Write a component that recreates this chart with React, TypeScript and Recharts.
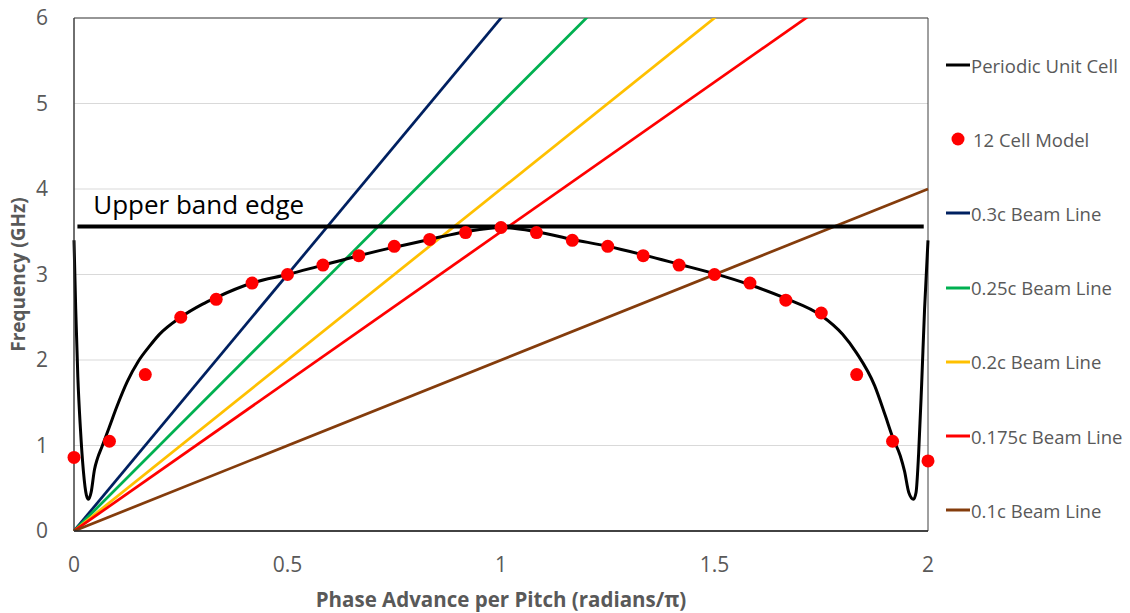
import React from 'react';
import { ComposedChart, Line, Scatter, XAxis, YAxis, CartesianGrid, ReferenceArea, ReferenceDot } from 'recharts';

const FONT = '"Open Sans", "Noto Sans", sans-serif';
const GREY = '#595959';

// Periodic unit cell dispersion curve (phase / pi, GHz)
const curvePhase = [
  0, 0.004, 0.009, 0.015, 0.022, 0.029, 0.034, 0.04, 0.048, 0.055, 0.065, 0.083, 0.1, 0.125, 0.15, 0.175, 0.2,
  0.25, 0.3, 0.333, 0.417, 0.5, 0.583, 0.667, 0.75, 0.833, 0.917, 1.0, 1.083, 1.167, 1.25, 1.333, 1.417, 1.5,
  1.583, 1.667, 1.75, 1.8, 1.833, 1.875, 1.9, 1.917, 1.935, 1.945, 1.955, 1.966, 1.972, 1.978, 1.985, 1.992, 2.0,
];
const curveFreq = [
  3.4, 2.6, 1.8, 1.2, 0.7, 0.42, 0.37, 0.45, 0.72, 0.85, 0.98, 1.22, 1.45, 1.75, 1.98, 2.15, 2.3,
  2.5, 2.65, 2.73, 2.9, 3.0, 3.11, 3.22, 3.32, 3.41, 3.5, 3.55, 3.5, 3.41, 3.33, 3.23, 3.12, 3.01,
  2.88, 2.72, 2.52, 2.3, 2.08, 1.7, 1.35, 1.1, 0.88, 0.7, 0.45, 0.37, 0.45, 0.9, 1.7, 2.6, 3.4,
];

// 12 cell model points
const cellPhase = [
  0, 0.083, 0.167, 0.25, 0.333, 0.417, 0.5, 0.583, 0.667, 0.75, 0.833, 0.917, 1.0,
  1.083, 1.167, 1.25, 1.333, 1.417, 1.5, 1.583, 1.667, 1.75, 1.833, 1.917, 2.0,
];
const cellFreq = [
  0.86, 1.05, 1.83, 2.5, 2.71, 2.9, 3.0, 3.11, 3.22, 3.33, 3.41, 3.49, 3.55,
  3.49, 3.4, 3.33, 3.22, 3.11, 3.0, 2.9, 2.7, 2.55, 1.83, 1.05, 0.82,
];

// Beam lines: from origin to frequency reached at phase 2
const beamNames = ['0.3c Beam Line', '0.25c Beam Line', '0.2c Beam Line', '0.175c Beam Line', '0.1c Beam Line'];
const beamColors = ['#002060', '#00B050', '#FFC000', '#FF0000', '#843C0C'];
const beamPhase = [0, 2];
const beamFreqEnd = [12, 10, 8, 7, 4];

const bandEdgeFreq = 3.56;
const bandEdgePhase = [0.008, 1.99];

const xTicks = [0, 0.5, 1, 1.5, 2];
const yTicks = [0, 1, 2, 3, 4, 5, 6];

const curveData = curvePhase.map((x, i) => ({ x, y: curveFreq[i] }));
const cellData = cellPhase.map((x, i) => ({ x, y: cellFreq[i] }));
const beamData = beamFreqEnd.map((f) => beamPhase.map((x, i) => ({ x, y: i === 0 ? 0 : f })));
const bandData = bandEdgePhase.map((x) => ({ x, y: bandEdgeFreq }));

const legendItems = [
  { name: 'Periodic Unit Cell', color: '#000000', dot: false },
  { name: '12 Cell Model', color: '#FF0000', dot: true },
  ...beamNames.map((name, i) => ({ name, color: beamColors[i], dot: false })),
];

const fmtX = (v: number) => String(v);

export default function App() {
  return (
    <div style={{ position: 'absolute', left: 0, top: 0, width: 1130, height: 613, background: '#fff', fontFamily: FONT }}>
      <ComposedChart width={1130} height={613} margin={{ top: 18, right: 202, bottom: 0, left: 0 }}>
        <CartesianGrid horizontal vertical={false} stroke="#D9D9D9" strokeWidth={1} />
        <XAxis
          dataKey="x"
          type="number"
          domain={[0, 2]}
          ticks={xTicks}
          tickFormatter={fmtX}
          height={82}
          tickLine={false}
          tickMargin={20}
          axisLine={{ stroke: '#262626', strokeWidth: 1.5 }}
          tick={{ fill: GREY, fontSize: 21, fontFamily: FONT }}
          label={{
            value: 'Phase Advance per Pitch (radians/π)',
            position: 'insideBottom',
            offset: 6,
            fill: GREY,
            fontSize: 20.5,
            fontWeight: 700,
            fontFamily: FONT,
          }}
        />
        <YAxis
          type="number"
          domain={[0, 6]}
          ticks={yTicks}
          allowDataOverflow
          width={74}
          tickLine={false}
          tickMargin={20}
          axisLine={{ stroke: '#404040' }}
          tick={{ fill: GREY, fontSize: 21, fontFamily: FONT }}
          label={{
            content: ({ viewBox }: any) => {
              const cx = viewBox.x + 18;
              const cy = viewBox.y + viewBox.height / 2;
              return (
                <text
                  x={cx}
                  y={cy}
                  transform={`rotate(-90 ${cx} ${cy})`}
                  textAnchor="middle"
                  dominantBaseline="central"
                  fill={GREY}
                  fontSize={19}
                  fontWeight={700}
                  fontFamily={FONT}
                >
                  Frequency (GHz)
                </text>
              );
            },
          }}
        />
        <ReferenceArea x1={0} x2={2} y1={0} y2={6} fill="none" stroke="#404040" strokeWidth={1} ifOverflow="visible" />
        {beamData.map((d, i) => (
          <Line
            key={beamNames[i]}
            data={d}
            dataKey="y"
            type="linear"
            stroke={beamColors[i]}
            strokeWidth={2.75}
            dot={false}
            activeDot={false}
            isAnimationActive={false}
          />
        ))}
        <Line
          data={curveData}
          dataKey="y"
          type="monotone"
          stroke="#000"
          strokeWidth={3}
          dot={false}
          activeDot={false}
          isAnimationActive={false}
        />
        <Line
          data={bandData}
          dataKey="y"
          type="linear"
          stroke="#000"
          strokeWidth={4}
          dot={false}
          activeDot={false}
          isAnimationActive={false}
        />
        <ReferenceDot
          x={0.045}
          y={bandEdgeFreq}
          r={0}
          stroke="none"
          fill="none"
          label={{
            content: ({ viewBox }: any) => (
              <text x={viewBox.x} y={viewBox.y - 13} fill="#000" fontSize={26} fontFamily={FONT}>
                Upper band edge
              </text>
            ),
          }}
        />
        <Scatter
          data={cellData}
          dataKey="y"
          fill="#FF0000"
          isAnimationActive={false}
          shape={(p: any) => <circle cx={p.cx} cy={p.cy} r={6.5} fill="#FF0000" />}
        />
      </ComposedChart>
      <div style={{ position: 'absolute', left: 945, top: 28 }}>
        {legendItems.map((it) => (
          <div key={it.name} style={{ height: 74.2, display: 'flex', alignItems: 'center' }}>
            <svg width={26} height={14} style={{ flex: 'none' }}>
              {it.dot ? (
                <circle cx={13} cy={7} r={6.5} fill={it.color} />
              ) : (
                <line x1={1} y1={7} x2={25} y2={7} stroke={it.color} strokeWidth={3} />
              )}
            </svg>
            <span style={{ color: GREY, fontSize: 18.5, marginLeft: it.dot ? 2 : 0, whiteSpace: 'nowrap' }}>{it.name}</span>
          </div>
        ))}
      </div>
    </div>
  );
}
